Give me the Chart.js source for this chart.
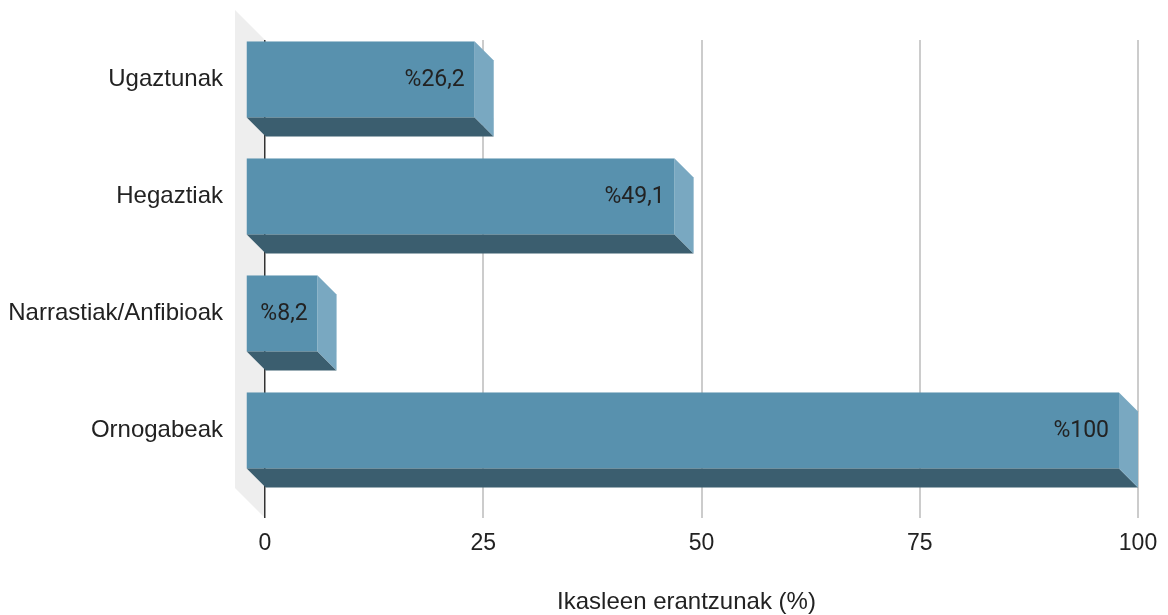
<!DOCTYPE html>
<html>
<head>
<meta charset="utf-8">
<script src="https://cdn.jsdelivr.net/npm/chart.js@4"></script>
<style>
  html, body { margin: 0; padding: 0; background: #ffffff; }
  #wrap { width: 1168px; height: 615px; position: relative; }
</style>
</head>
<body>
<div id="wrap"><canvas id="c" width="1168" height="615"></canvas></div>
<script>
const categories = ['Ugaztunak', 'Hegaztiak', 'Narrastiak/Anfibioak', 'Ornogabeak'];
const values = [26.2, 49.1, 8.2, 100];
const valueLabels = ['%26,2', '%49,1', '%8,2', '%100'];
const xTickValues = [0, 25, 50, 75, 100];
const axisTitle = 'Ikasleen erantzunak (%)';

const DEPTH = 19;
const WALL = 30;
const FRONT = '#5891ae';
const SIDE = '#79a8c1';
const BOTTOM = '#3b5e6f';

const bar3d = {
  id: 'bar3d',
  beforeDraw(chart) {
    const ctx = chart.ctx;
    const xs = chart.scales.x;
    const ca = chart.chartArea;
    const x0 = xs.getPixelForValue(0);
    const top = ca.top;
    const bottom = ca.bottom + 10;
    ctx.save();
    ctx.fillStyle = '#eeeeee';
    ctx.beginPath();
    ctx.moveTo(x0 - WALL, top - WALL);
    ctx.lineTo(x0, top);
    ctx.lineTo(x0, bottom);
    ctx.lineTo(x0 - WALL, bottom - WALL);
    ctx.closePath();
    ctx.fill();
    ctx.restore();
  },
  afterDatasetsDraw(chart) {
    const ctx = chart.ctx;
    const meta = chart.getDatasetMeta(0);
    ctx.save();
    meta.data.forEach((bar, i) => {
      const p = bar.getProps(['x', 'y', 'base', 'height'], true);
      const yt = p.y - p.height / 2;
      const yb = p.y + p.height / 2;
      const xe = p.x;
      const xb = p.base;
      const d = DEPTH;
      ctx.fillStyle = FRONT;
      ctx.fillRect(xb - d, yt - d, (xe - xb), p.height);
      ctx.fillStyle = BOTTOM;
      ctx.beginPath();
      ctx.moveTo(xb - d, yb - d);
      ctx.lineTo(xe - d, yb - d);
      ctx.lineTo(xe, yb);
      ctx.lineTo(xb, yb);
      ctx.closePath();
      ctx.fill();
      ctx.fillStyle = SIDE;
      ctx.beginPath();
      ctx.moveTo(xe - d, yt - d);
      ctx.lineTo(xe, yt);
      ctx.lineTo(xe, yb);
      ctx.lineTo(xe - d, yb - d);
      ctx.closePath();
      ctx.fill();
      ctx.fillStyle = '#222222';
      ctx.font = '23px Roboto';
      ctx.textAlign = 'right';
      ctx.textBaseline = 'middle';
      ctx.fillText(valueLabels[i], xe - d - 10, p.y - d + 1);
    });
    ctx.restore();
  },
  afterDraw(chart) {
    const ctx = chart.ctx;
    const xs = chart.scales.x;
    const ca = chart.chartArea;
    const x0 = xs.getPixelForValue(0);
    ctx.save();
    ctx.fillStyle = '#222222';
    ctx.font = '24px "Liberation Sans", Arial, sans-serif';
    ctx.textAlign = 'center';
    ctx.textBaseline = 'middle';
    ctx.fillText(axisTitle, (x0 - WALL + ca.right) / 2, 602);
    ctx.restore();
  }
};

new Chart(document.getElementById('c'), {
  type: 'bar',
  data: {
    labels: categories,
    datasets: [{
      data: values,
      backgroundColor: 'rgba(0,0,0,0)',
      borderWidth: 0,
      categoryPercentage: 1,
      barPercentage: 0.65
    }]
  },
  options: {
    indexAxis: 'y',
    responsive: false,
    animation: false,
    events: [],
    layout: { padding: { top: 40, right: 30, left: 0, bottom: 0 } },
    plugins: { legend: { display: false }, tooltip: { enabled: false }, title: { display: false } },
    scales: {
      x: {
        type: 'linear',
        min: 0,
        max: 100,
        afterBuildTicks(scale) { scale.ticks = xTickValues.map(v => ({ value: v })); },
        afterFit(scale) { scale.height = 107; scale.paddingLeft = 0; scale.paddingRight = 0; },
        grid: {
          color: (c) => (c.tick && c.tick.value === 0) ? '#333333' : '#cccccc',
          lineWidth: (c) => (c.tick && c.tick.value === 0) ? 1.5 : 2,
          tickLength: 10,
          drawTicks: true
        },
        border: { display: false },
        ticks: {
          color: '#222222',
          font: { family: '"Liberation Sans", Arial, sans-serif', size: 23 },
          padding: 12,
          maxRotation: 0
        },
        title: { display: false }
      },
      y: {
        afterFit(scale) { scale.width = 265; scale.paddingTop = 0; scale.paddingBottom = 0; },
        grid: { display: false, drawTicks: false },
        border: { display: false },
        ticks: {
          color: '#222222',
          font: { family: '"Liberation Sans", Arial, sans-serif', size: 24 },
          padding: 42,
          labelOffset: -19
        }
      }
    }
  },
  plugins: [bar3d]
});
</script>
</body>
</html>
